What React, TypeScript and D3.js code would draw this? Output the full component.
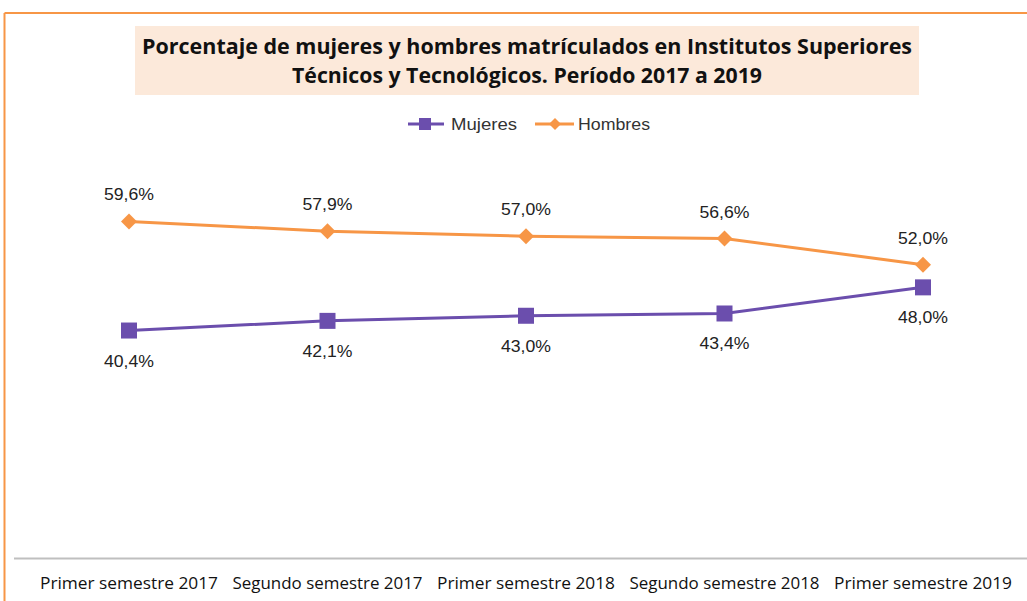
import React from "react";
import * as d3 from "d3";

const categories = [
  "Primer semestre 2017",
  "Segundo semestre 2017",
  "Primer semestre 2018",
  "Segundo semestre 2018",
  "Primer semestre 2019",
];
const mujeres = [40.4, 42.1, 43.0, 43.4, 48.0];
const hombres = [59.6, 57.9, 57.0, 56.6, 52.0];
const titleLines = [
  "Porcentaje de mujeres y hombres matrículados en Institutos Superiores",
  "Técnicos y Tecnológicos.  Período 2017 a 2019",
];

const W = 1027;
const H = 601;
const PURPLE = "#6B4EAD";
const ORANGE = "#F79646";
const FONT = "Carlito, Calibri, 'Liberation Sans Narrow', 'Open Sans', sans-serif";

export default function App() {
  const x = d3.scalePoint<string>().domain(categories).range([129, 923]);
  const y = d3.scaleLinear().domain([0, 80]).range([560, 105.6]);
  const line = d3
    .line<number>()
    .x((_, i) => x(categories[i]) as number)
    .y((d) => y(d));
  const fmt = (v: number) => v.toFixed(1).replace(".", ",") + "%";
  const diamond = (r: number) => `M0,${-r}L${r},0L0,${r}L${-r},0Z`;

  return (
    <svg
      width={W}
      height={H}
      style={{ position: "absolute", left: 0, top: 0, fontFamily: FONT }}
    >
      <rect x={0} y={0} width={W} height={H} fill="#fff" />
      {/* border */}
      <line x1={4.5} y1={13} x2={W} y2={13} stroke={ORANGE} strokeWidth={2} />
      <line x1={4.5} y1={13} x2={4.5} y2={H} stroke={ORANGE} strokeWidth={2} />
      {/* title */}
      <rect x={135} y={26} width={784} height={69} fill="#FCE9DA" />
      {titleLines.map((t, i) => (
        <text
          key={i}
          x={527}
          y={54 + i * 29}
          textAnchor="middle"
          fontWeight="bold"
          fontSize={20.5}
          fill="#111"
          style={{ fontFamily: "'Liberation Sans Narrow', 'Open Sans', sans-serif" }}
          textLength={i === 0 ? 770 : 470}
          lengthAdjust="spacingAndGlyphs"
        >
          {t}
        </text>
      ))}
      {/* legend */}
      <g>
        <line x1={408} y1={124} x2={444} y2={124} stroke={PURPLE} strokeWidth={3} />
        <rect x={419} y={118} width={12} height={12} fill={PURPLE} />
        <text x={451} y={130} fontSize={16} fill="#333" style={{ fontFamily: "'Liberation Sans', sans-serif" }} textLength={66} lengthAdjust="spacingAndGlyphs">Mujeres</text>
        <line x1={535} y1={124} x2={574} y2={124} stroke={ORANGE} strokeWidth={3} />
        <path d={diamond(6)} transform="translate(555,124)" fill={ORANGE} />
        <text x={578} y={130} fontSize={16} fill="#333" style={{ fontFamily: "'Liberation Sans', sans-serif" }} textLength={72} lengthAdjust="spacingAndGlyphs">Hombres</text>
      </g>
      {/* axis */}
      <line x1={14} y1={558.5} x2={W} y2={558.5} stroke="#BFBFBF" strokeWidth={2} />
      {categories.map((c) => (
        <text
          key={c}
          x={x(c)}
          y={589}
          textAnchor="middle"
          fontSize={16}
          fill="#111"
          style={{ fontFamily: "'Liberation Sans Narrow', 'Open Sans', sans-serif" }}
          textLength={c.startsWith("Primer") ? 178 : 190}
          lengthAdjust="spacingAndGlyphs"
        >
          {c}
        </text>
      ))}
      {/* series */}
      <path d={line(hombres) as string} fill="none" stroke={ORANGE} strokeWidth={3} />
      <path d={line(mujeres) as string} fill="none" stroke={PURPLE} strokeWidth={3} />
      {hombres.map((v, i) => (
        <g key={"h" + i}>
          <path
            d={diamond(8)}
            transform={`translate(${x(categories[i])},${y(v)})`}
            fill={ORANGE}
          />
          <text
            x={x(categories[i])}
            y={y(v) - 21}
            textAnchor="middle"
            fontSize={17}
            fill="#222"
            style={{ fontFamily: "'Liberation Sans', sans-serif" }}
            textLength={50}
            lengthAdjust="spacingAndGlyphs"
          >
            {fmt(v)}
          </text>
        </g>
      ))}
      {mujeres.map((v, i) => (
        <g key={"m" + i}>
          <rect
            x={(x(categories[i]) as number) - 8}
            y={y(v) - 8}
            width={16}
            height={16}
            fill={PURPLE}
          />
          <text
            x={x(categories[i])}
            y={y(v) + 36}
            textAnchor="middle"
            fontSize={17}
            fill="#222"
            style={{ fontFamily: "'Liberation Sans', sans-serif" }}
            textLength={50}
            lengthAdjust="spacingAndGlyphs"
          >
            {fmt(v)}
          </text>
        </g>
      ))}
    </svg>
  );
}
